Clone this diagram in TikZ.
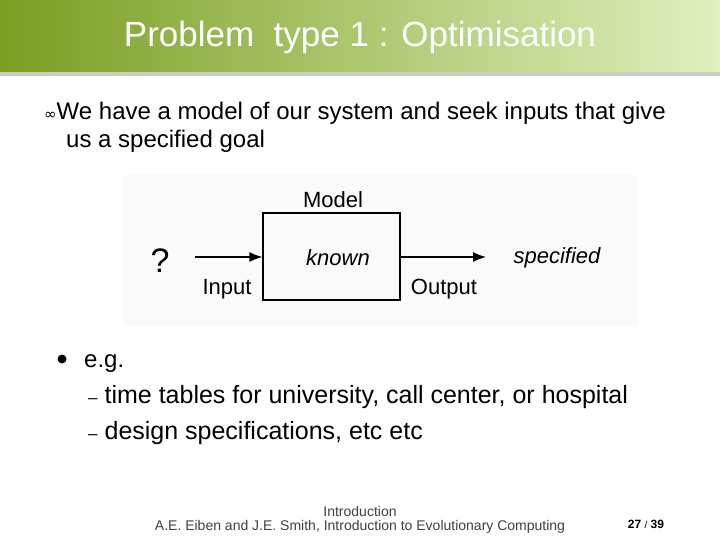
\documentclass[tikz,border=0pt]{standalone}
\usepackage{fontspec}
\usetikzlibrary{arrows.meta}
\setmainfont{Liberation Sans}
\newfontfamily\dvs{DejaVu Sans}
\begin{document}
\begin{tikzpicture}[x=1pt,y=-1pt,
  txt/.style={inner sep=0pt,anchor=base west,font=\fontsize{24}{28}\selectfont},
  dg/.style={inner sep=0pt,font=\fontsize{22}{25}\selectfont},
  arr/.style={-{Latex[length=13pt,width=10pt]},line width=1.3pt}]
\useasboundingbox (0,0) rectangle (720,540);
\fill[white] (0,0) rectangle (720,540);
\fill[gray!40] (0,72) rectangle (720,76);
\shade[left color={rgb,255:red,122;green,158;blue,34}, right color={rgb,255:red,224;green,240;blue,190}] (0,0) rectangle (720,72);
\node[inner sep=0pt,text=white,font=\fontsize{35}{40}\selectfont] (title) at (360,37) {Problem\ \ type 1 : Optimisation};
\node[txt] (b1) at (44,120) {{\dvs\fontsize{15}{17}\selectfont ∞}We have a model of our system and seek inputs that give};
\node[txt] (b1b) at (66,148) {us a specified goal};
\fill[black!2] (123,175) rectangle (638,325);
\node[draw,line width=1.2pt,minimum width=137pt,minimum height=87pt,inner sep=0pt] (box) at (331.5,256.5) {};
\node[dg] (model) at (333,200) {Model};
\node[dg,font=\fontsize{22}{25}\selectfont\itshape] (known) at (338,258) {known};
\node[inner sep=0pt,font=\fontsize{34}{38}\selectfont] (q) at (160,261) {?};
\node[dg] (inp) at (227,289) {Input};
\node[dg] (outp) at (444,289) {Output};
\node[dg,font=\fontsize{22}{25}\selectfont\itshape] (spec) at (557,258) {specified};
\coordinate (ain) at (195,257);
\coordinate (aout) at (486,257);
\draw[arr] (ain) -- (box.west |- ain);
\draw[arr] (box.east |- aout) -- (aout);
\fill (62,359) circle (4.5pt);
\node[txt] (eg) at (84,367) {e.g.};
\node[txt,font=\fontsize{25}{29}\selectfont] (d1) at (88,403) {{\fontsize{17}{20}\selectfont –} time tables for university, call center, or hospital};
\node[txt,font=\fontsize{25}{29}\selectfont] (d2) at (88,439) {{\fontsize{17}{20}\selectfont –} design specifications, etc etc};
\node[inner sep=0pt,font=\fontsize{14}{16}\selectfont,text=black!75] (f1) at (360,511) {Introduction};
\node[inner sep=0pt,font=\fontsize{14}{16}\selectfont,text=black!75] (f2) at (360,527) {A.E. Eiben and J.E. Smith, Introduction to Evolutionary Computing};
\node[inner sep=0pt,font=\bfseries\fontsize{12}{14}\selectfont] (pg) at (646,524) {27 {\mdseries\fontsize{10}{12}\selectfont /} 39};
\end{tikzpicture}
\end{document}
